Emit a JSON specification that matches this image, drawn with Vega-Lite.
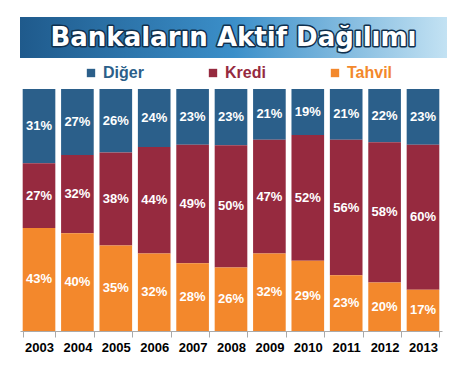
{
  "$schema": "https://vega.github.io/schema/vega-lite/v6.json",
  "background": "white",
  "padding": {"left": 20, "top": 17, "right": 0, "bottom": 0},
  "spacing": 7,
  "resolve": {"legend": {"color": "independent"}},
  "config": {"view": {"stroke": null}, "font": "Liberation Sans"},
  "vconcat": [
    {
      "width": 427,
      "height": 41,
      "data": {"values": [{"title": "Bankaların Aktif Dağılımı"}]},
      "layer": [
        {
          "mark": {"type": "rect", "color": {"gradient": "linear", "x1": 0, "y1": 0, "x2": 1, "y2": 0,
            "stops": [{"offset": 0, "color": "#1f5a8c"}, {"offset": 0.5, "color": "#3b8fc9"}, {"offset": 1, "color": "#c3e2f3"}]}},
          "encoding": {}
        },
        {
          "mark": {"type": "text", "font": "DejaVu Sans", "fontWeight": "bold", "fontSize": 26, "fill": "#10304d", "stroke": "#10304d", "strokeWidth": 3, "strokeJoin": "round", "align": "center", "baseline": "middle"},
          "encoding": {"text": {"field": "title", "type": "nominal"}}
        },
        {
          "mark": {"type": "text", "font": "DejaVu Sans", "fontWeight": "bold", "fontSize": 26, "fill": "white", "align": "center", "baseline": "middle"},
          "encoding": {"text": {"field": "title", "type": "nominal"}}
        }
      ]
    },
    {
      "width": 422,
      "height": 242,
      "data": {"values": [
        {"year": "2003", "series": "Diğer", "pct": 0.31}, {"year": "2003", "series": "Kredi", "pct": 0.27}, {"year": "2003", "series": "Tahvil", "pct": 0.43},
        {"year": "2004", "series": "Diğer", "pct": 0.27}, {"year": "2004", "series": "Kredi", "pct": 0.32}, {"year": "2004", "series": "Tahvil", "pct": 0.40},
        {"year": "2005", "series": "Diğer", "pct": 0.26}, {"year": "2005", "series": "Kredi", "pct": 0.38}, {"year": "2005", "series": "Tahvil", "pct": 0.35},
        {"year": "2006", "series": "Diğer", "pct": 0.24}, {"year": "2006", "series": "Kredi", "pct": 0.44}, {"year": "2006", "series": "Tahvil", "pct": 0.32},
        {"year": "2007", "series": "Diğer", "pct": 0.23}, {"year": "2007", "series": "Kredi", "pct": 0.49}, {"year": "2007", "series": "Tahvil", "pct": 0.28},
        {"year": "2008", "series": "Diğer", "pct": 0.23}, {"year": "2008", "series": "Kredi", "pct": 0.50}, {"year": "2008", "series": "Tahvil", "pct": 0.26},
        {"year": "2009", "series": "Diğer", "pct": 0.21}, {"year": "2009", "series": "Kredi", "pct": 0.47}, {"year": "2009", "series": "Tahvil", "pct": 0.32},
        {"year": "2010", "series": "Diğer", "pct": 0.19}, {"year": "2010", "series": "Kredi", "pct": 0.52}, {"year": "2010", "series": "Tahvil", "pct": 0.29},
        {"year": "2011", "series": "Diğer", "pct": 0.21}, {"year": "2011", "series": "Kredi", "pct": 0.56}, {"year": "2011", "series": "Tahvil", "pct": 0.23},
        {"year": "2012", "series": "Diğer", "pct": 0.22}, {"year": "2012", "series": "Kredi", "pct": 0.58}, {"year": "2012", "series": "Tahvil", "pct": 0.20},
        {"year": "2013", "series": "Diğer", "pct": 0.23}, {"year": "2013", "series": "Kredi", "pct": 0.60}, {"year": "2013", "series": "Tahvil", "pct": 0.17}
      ]},
      "transform": [
        {"stack": "pct", "groupby": ["year"], "sort": [{"field": "series", "order": "descending"}], "as": ["v0", "v1"], "offset": "normalize"}
      ],
      "encoding": {
        "x": {"field": "year", "type": "ordinal", "scale": {"paddingInner": 0.15, "paddingOuter": 0.07},
          "axis": {"title": null, "labelAngle": 0, "labelFont": "Liberation Sans", "labelFontWeight": "bold", "labelFontSize": 13, "labelColor": "#000000", "domainColor": "#aaaaaa", "tickColor": "#aaaaaa", "tickBand": "extent", "tickSize": 6, "labelPadding": 4}}
      },
      "layer": [
        {
          "mark": {"type": "bar"},
          "encoding": {
            "y": {"field": "v0", "type": "quantitative", "scale": {"domain": [0, 1]}, "axis": null},
            "y2": {"field": "v1"},
            "color": {"field": "series", "type": "nominal",
              "scale": {"domain": ["Diğer", "Kredi", "Tahvil"], "range": ["#2b5f8a", "#962a3f", "#f3882c"]},
              "legend": {"title": null, "orient": "none", "direction": "horizontal", "legendX": 63, "legendY": -24,
                "symbolType": "square", "symbolSize": 70, "symbolStrokeWidth": 0, "labelFont": "Liberation Sans", "labelFontSize": 16, "labelFontWeight": "bold",
                "columnPadding": 56, "gridAlign": "all", "labelOffset": 4,
                "encode": {"labels": {"update": {"fill": {"scale": "color", "field": "value"}}}}}}
          }
        },
        {
          "transform": [{"fold": ["v0", "v1"], "as": ["edge", "pos"]}],
          "mark": {"type": "text", "color": "white", "font": "Liberation Sans", "fontWeight": "bold", "fontSize": 13, "baseline": "middle"},
          "encoding": {
            "y": {"aggregate": "mean", "field": "pos", "type": "quantitative", "scale": {"domain": [0, 1]}, "axis": null},
            "detail": {"field": "series", "type": "nominal"},
            "text": {"field": "pct", "type": "quantitative", "format": ".0%"}
          }
        }
      ]
    }
  ]
}
